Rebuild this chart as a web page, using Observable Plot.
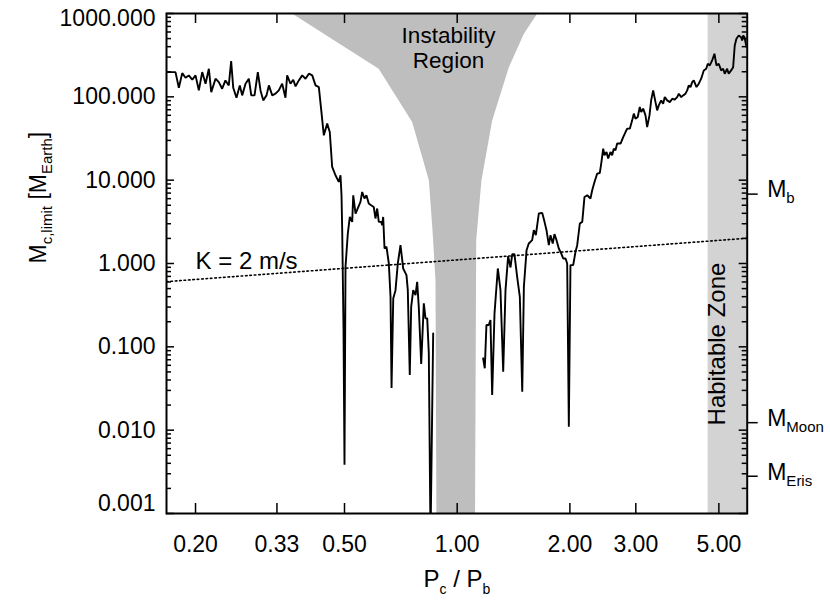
<!DOCTYPE html>
<html><head><meta charset="utf-8">
<script src="https://cdn.jsdelivr.net/npm/d3@7"></script>
<script src="https://cdn.jsdelivr.net/npm/@observablehq/plot@0.6"></script>
<style>body{margin:0;background:#fff;} svg{display:block;}</style>
</head><body><div id="chart"></div>
<script>
// ---- data (period ratio Pc/Pb, mass limit in Earth masses) ----
const seg1P = [0.1680,0.1768,0.1805,0.1843,0.1881,0.1919,0.1960,0.2000,0.2041,0.2084,0.2127,0.2171,0.2203,0.2262,0.2308,0.2356,0.2404,0.2454,0.2490,0.2522,0.2573,0.2626,0.2665,0.2720,0.2776,0.2818,0.2875,0.2934,0.2983,0.3033,0.3095,0.3140,0.3206,0.3271,0.3338,0.3408,0.3478,0.3514,0.3586,0.3648,0.3700,0.3775,0.3855,0.3934,0.4015,0.4100,0.4184,0.4270,0.4334,0.4403,0.4495,0.4567,0.4635,0.4730,0.4828,0.4878,0.4909,0.4930,0.4970,0.5000,0.5031,0.5103,0.5166,0.5243,0.5276,0.5352,0.5516,0.5574,0.5653,0.5722,0.5804,0.5890,0.5985,0.6049,0.6113,0.6174,0.6266,0.6305,0.6343,0.6395,0.6474,0.6567,0.6636,0.6678,0.6748,0.6843,0.6940,0.7056,0.7174,0.7320,0.7380,0.7470,0.7535,0.7630,0.7738,0.7818,0.7895,0.8014,0.8144,0.8229,0.8316,0.8398,0.8487,0.8627];
const seg1M = [198,198,128.7,192.6,169.6,180.8,160.5,180.8,119.5,198,143.8,217.4,114.0,165.0,150.2,125.2,157.4,137.1,268.2,128.7,97.7,137.1,104.1,143.8,165.0,104.1,104.1,198,119.5,90.7,104.1,137.1,104.1,109.1,119.5,143.8,97.7,180.8,143.8,160.5,133.4,157.4,180.8,165.0,189.4,180.8,137.1,130.9,68.8,34.5,47.7,37.8,14.4,11.45,9.52,11.45,6.59,2.51,0.159,0.00384,0.912,2.29,3.62,3.16,6.59,3.98,5.48,7.22,6.02,6.59,5.24,5.00,4.77,3.47,4.57,3.16,3.16,2.88,3.62,1.515,1.584,1.00,0.399,0.0321,0.381,0.479,1.00,1.66,0.872,0.725,0.479,0.0460,0.302,0.479,0.418,0.603,0.302,0.0622,0.332,0.2196,0.2196,0.0836,0.0005,0.145];
const seg2P = [1.173,1.185,1.197,1.214,1.227,1.240,1.258,1.284,1.305,1.327,1.346,1.368,1.388,1.403,1.422,1.446,1.470,1.492,1.507,1.532,1.553,1.586,1.602,1.622,1.652,1.687,1.711,1.732,1.757,1.775,1.800,1.819,1.842,1.868,1.896,1.919,1.947,1.967,1.987,2.007,2.041,2.070,2.092,2.126,2.158,2.188,2.225,2.270,2.294,2.327,2.366,2.404,2.425,2.455,2.474,2.505,2.531,2.567,2.594,2.620,2.647,2.675,2.731,2.776,2.816,2.845,2.891,2.934,2.963,2.994,3.036,3.074,3.101,3.139,3.184,3.217,3.263,3.297,3.338,3.386,3.421,3.455,3.506,3.549,3.585,3.638,3.698,3.753,3.806,3.870,3.908,3.966,4.015,4.072,4.115,4.156,4.199,4.244,4.285,4.357,4.419,4.484,4.557,4.625,4.671,4.728,4.798,4.866,4.927,4.996,5.071,5.133,5.184,5.261,5.312,5.392,5.459,5.513,5.570,5.650,5.734,5.769,5.805,5.852,5.927];
const seg2M = [0.0728,0.0553,0.1825,0.1825,0.2096,0.02646,0.252,0.872,0.479,0.0503,0.479,1.225,0.897,1.295,1.295,0.692,0.399,0.0290,0.525,1.445,1.739,1.905,2.51,2.19,3.98,4.05,3.16,2.51,1.66,2.19,1.739,2.25,1.905,1.515,1.32,1.15,1.15,1.00,0.01103,0.956,0.956,1.379,1.66,3.02,3.16,6.29,6.59,6.02,7.57,9.52,12.0,12.2,15.8,23.9,19.9,21.8,18.2,21.8,19.9,23.9,22.8,27.5,27.5,32.9,37.8,41.5,41.5,52.2,62.8,54.7,57.2,75.4,65.7,72.1,59.9,43.4,59.9,90.7,119.5,86.5,68.8,79.0,90.7,82.8,99.3,90.7,86.5,95.0,92.4,99.3,109.1,99.3,104.1,109.1,119.5,137.1,130.9,150.2,157.4,130.9,143.8,165.0,207.5,217.4,249.7,238.2,273.4,328.9,238.2,249.7,207.5,217.4,189.4,217.4,189.4,207.5,227.2,413.6,497.6,545,520,474.8,545,520,394.8];
// instability region outline (left edge top->bottom, right edge bottom->top)
const instP = [0.362,0.617,0.758,0.840,0.859,0.875,0.880,1.116,1.124,1.161,1.240,1.374,1.507,1.636];
const instM = [1000,217,49.8,10,2.51,0.63,0.001,0.001,1.9,10,52,227,571,1000];
// K = 2 m/s line endpoints
const kP = [0.1673, 5.952];
const kM = [0.606, 2.01];
// habitable zone extent
const hzP = [4.68, 5.952];
// axes
const xDomain = [0.1673, 5.952];
const yDomain = [0.001, 1000];
const xTicks = [0.2, 0.33, 0.5, 1, 2, 3, 5];
const yMajor = [0.001, 0.01, 0.1, 1, 10, 100, 1000];
const minorMult = [2,3,4,5,6,7,8,9];
const rightLabels = ["M_{b}", "M_{Moon}", "M_{Eris}"];
const rightValues = [6.8, 0.0123, 0.0028];
// annotations
const instLabel = {text: "Instability\nRegion", p: 0.948, m: 390};
const kLabel = {text: "K = 2 m/s", p: 0.2, m: 1.055};
const hzLabel = {text: "Habitable Zone", p: 4.959, m: 0.108};

// ---- layout ----
const W = 830, H = 604, ML = 166, MR = 83.3, MT = 13, MB = 91;
const FW = W - ML - MR, FH = H - MT - MB;

const yMinor = yMajor.slice(0, -1).flatMap(d => minorMult.map(m => +(d * m).toPrecision(3)));
const line1 = seg1P.map((p, i) => ({p, m: seg1M[i]}));
const line2 = seg2P.map((p, i) => ({p, m: seg2M[i]}));
const inst = instP.map((p, i) => ({p, m: instM[i]}));
const kLine = kP.map((p, i) => ({p, m: kM[i]}));

const chart = Plot.plot({
  width: W, height: H,
  marginLeft: ML, marginRight: MR, marginTop: MT, marginBottom: MB,
  style: {fontFamily: "'Liberation Sans', Arial, Helvetica, sans-serif", fontSize: "23px", color: "black", background: "white", overflow: "visible"},
  x: {type: "log", domain: xDomain, axis: null},
  y: {type: "log", domain: yDomain, axis: null},
  marks: [
    Plot.rect([{x1: hzP[0], x2: hzP[1]}], {x1: "x1", x2: "x2", fill: "#d3d3d3", clip: true}),
    Plot.line(inst, {x: "p", y: "m", fill: "#bebebe", stroke: "none", clip: true}),
    Plot.line(kLine, {x: "p", y: "m", stroke: "black", strokeWidth: 1.6, strokeDasharray: "1.6,2.8", clip: true}),
    Plot.line(line1, {x: "p", y: "m", stroke: "black", strokeWidth: 1.9, strokeLinejoin: "miter", clip: true}),
    Plot.line(line2, {x: "p", y: "m", stroke: "black", strokeWidth: 1.9, strokeLinejoin: "miter", clip: true}),
    // ticks (inward)
    Plot.tickY(yMajor, {y: d => d, insetRight: FW - 8, stroke: "black", strokeWidth: 1.5}),
    Plot.tickY(yMinor, {y: d => d, insetRight: FW - 5, stroke: "black", strokeWidth: 1.5}),
    Plot.tickY(yMajor, {y: d => d, insetLeft: FW - 8, stroke: "black", strokeWidth: 1.5}),
    Plot.tickY(yMinor, {y: d => d, insetLeft: FW - 5, stroke: "black", strokeWidth: 1.5}),
    Plot.tickY(rightValues, {y: d => d, insetLeft: FW, insetRight: -11, stroke: "black", strokeWidth: 1.5}),
    Plot.tickX(xTicks, {x: d => d, insetTop: FH - 10, stroke: "black", strokeWidth: 1.5}),
    Plot.tickX(xTicks, {x: d => d, insetBottom: FH - 10, stroke: "black", strokeWidth: 1.5}),
    Plot.frame({stroke: "black", strokeWidth: 2}),
    // tick labels
    Plot.text(yMajor.slice(1, -1), {y: d => d, text: d => d.toFixed(3), frameAnchor: "left", textAnchor: "end", dx: -11, fontSize: 23}),
    Plot.text([yMajor[yMajor.length - 1]], {y: d => d, text: d => d.toFixed(3), frameAnchor: "left", textAnchor: "end", dx: -11, dy: 5, fontSize: 23}),
    Plot.text([yMajor[0]], {y: d => d, text: d => d.toFixed(3), frameAnchor: "left", textAnchor: "end", dx: -11, dy: -10, fontSize: 23}),
    Plot.text(xTicks, {x: d => d, text: d => d.toFixed(2), frameAnchor: "bottom", lineAnchor: "top", dy: 22, fontSize: 23}),
    Plot.text(rightValues, {y: d => d, text: (d, i) => rightLabels[i], frameAnchor: "right", textAnchor: "start", dx: 20, dy: -4, fontSize: 23}),
    // axis titles
    Plot.text(["P_{c} / P_{b}"], {text: d => d, frameAnchor: "bottom", dy: 73, fontSize: 24}),
    Plot.text(["M_{c,limit} [M_{Earth}]"], {text: d => d, frameAnchor: "left", rotate: -90, dx: -127.5, fontSize: 23}),
    // annotations
    Plot.text([instLabel], {x: "p", y: "m", text: "text", fontSize: 22.5, lineHeight: 1.12}),
    Plot.text([kLabel], {x: "p", y: "m", text: "text", textAnchor: "start", fontSize: 24}),
    Plot.text([hzLabel], {x: "p", y: "m", text: "text", rotate: -90, fontSize: 24})
  ]
});

// subscripts: convert "_{...}" into lowered, smaller tspans
d3.select(chart).selectAll("text").each(function () {
  const s = this.textContent;
  if (!s.includes("_{")) return;
  const isX = s.startsWith("P_");
  const subSize = isX ? 14 : 15, shift = isX ? 7 : 6;
  const sel = d3.select(this);
  sel.text(null);
  const re = /_\{([^}]*)\}/g;
  let last = 0, m, pending = 0;
  while ((m = re.exec(s))) {
    if (m.index > last) { sel.append("tspan").attr("dy", pending).text(s.slice(last, m.index)); pending = 0; }
    sel.append("tspan").attr("dy", pending + shift).attr("font-size", subSize).text(m[1]);
    pending = -shift;
    last = re.lastIndex;
  }
  if (last < s.length) sel.append("tspan").attr("dy", pending).text(s.slice(last));
});

document.getElementById("chart").appendChild(chart);
</script>
</body></html>
